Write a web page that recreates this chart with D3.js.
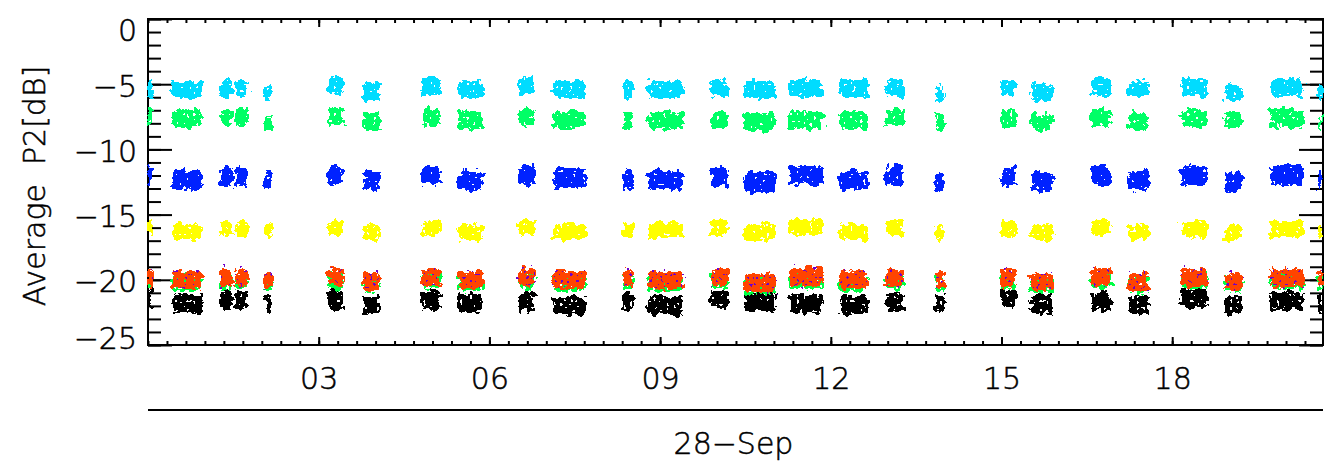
<!DOCTYPE html>
<html>
<head>
<meta charset="utf-8">
<script src="https://cdn.jsdelivr.net/npm/d3@7"></script>
<style>
  html, body { margin: 0; padding: 0; background: #fff; }
  svg { display: block; }
</style>
</head>
<body>
<script>
// ---------------- DATA ----------------
// Observation bursts: start / end time in hours of 28-Sep
const clusterStart = [0.00, 0.42, 1.27, 1.53, 2.06, 3.17, 3.78, 4.82, 5.44, 6.51, 7.11, 8.34, 8.78, 9.89, 10.47, 11.26, 12.14, 12.97, 13.85, 14.99, 15.52, 16.58, 17.23, 18.16, 18.92, 19.71, 20.57];
const clusterEnd   = [0.07, 0.95, 1.48, 1.76, 2.18, 3.43, 4.08, 5.14, 5.88, 6.81, 7.69, 8.52, 9.40, 10.19, 11.03, 11.86, 12.65, 13.29, 13.99, 15.26, 15.91, 16.93, 17.60, 18.63, 19.22, 20.31, 20.65];

// Average P2 [dB] level of each series in each burst
const levelCyan   = [-5.3,-5.4,-5.3,-5.3,-5.6,-5.1,-5.6,-5.2,-5.4,-5.1,-5.4,-5.4,-5.4,-5.3,-5.4,-5.3,-5.3,-5.3,-5.7,-5.3,-5.6,-5.2,-5.4,-5.2,-5.6,-5.3,-5.6];
const levelGreen  = [-7.5,-7.6,-7.5,-7.5,-7.9,-7.5,-7.9,-7.5,-7.75,-7.5,-7.75,-7.75,-7.8,-7.75,-7.9,-7.75,-7.75,-7.5,-7.9,-7.6,-7.9,-7.6,-7.9,-7.6,-7.75,-7.6,-8.0];
const levelBlue   = [-12.0,-12.35,-12.1,-12.1,-12.35,-12.0,-12.35,-12.0,-12.35,-12.0,-12.2,-12.35,-12.35,-12.1,-12.5,-12.0,-12.35,-12.0,-12.5,-12.1,-12.5,-12.0,-12.35,-12.0,-12.5,-12.0,-12.35];
const levelYellow = [-16.0,-16.35,-16.1,-16.1,-16.2,-16.0,-16.35,-16.0,-16.35,-15.95,-16.35,-16.2,-16.2,-16.0,-16.35,-15.95,-16.35,-16.0,-16.4,-16.1,-16.35,-16.0,-16.35,-16.1,-16.35,-16.1,-16.35];
const levelBlack  = [-21.5,-21.85,-21.6,-21.6,-21.85,-21.55,-21.95,-21.55,-21.8,-21.7,-21.95,-21.7,-21.95,-21.4,-21.7,-21.8,-21.95,-21.7,-21.8,-21.4,-21.8,-21.7,-21.95,-21.4,-21.95,-21.7,-21.8];
const levelGreen20  = [-20.1,-20.25,-20.1,-20.1,-20.25,-20.05,-20.35,-20.05,-20.25,-20.05,-20.25,-20.05,-20.25,-20.05,-20.5,-20.05,-20.25,-20.1,-20.25,-20.1,-20.4,-20.05,-20.4,-20.1,-20.35,-20.1,-20.2];
const levelRed20    = [-19.85,-20.0,-19.85,-19.85,-20.0,-19.8,-20.1,-19.8,-20.0,-19.8,-20.0,-19.8,-20.0,-19.8,-20.25,-19.8,-20.0,-19.85,-20.0,-19.85,-20.15,-19.8,-20.15,-19.85,-20.1,-19.85,-19.95];
const levelPurple20 = [-19.8,-19.95,-19.8,-19.8,-19.95,-19.75,-20.05,-19.75,-19.95,-19.75,-19.95,-19.75,-19.95,-19.75,-20.2,-19.75,-19.95,-19.8,-19.95,-19.8,-20.1,-19.75,-20.1,-19.8,-20.05,-19.8,-19.9];

// half spread of the scatter inside a burst, dB
const spreadCyan = 0.66, spreadGreen = 0.66, spreadBlue = 0.74, spreadYellow = 0.6,
      spreadBlack = 0.72, spreadGreen20 = 0.62, spreadRed20 = 0.66, spreadPurple20 = 0.8;

const yMajorTicks = [0, -5, -10, -15, -20, -25];
const xMajorHours = [3, 6, 9, 12, 15, 18];
const xTickLabels = ["03", "06", "09", "12", "15", "18"];
const dateLabel = "28\u2212Sep";
const yTitle = "Average  P2[dB]";

// ---------------- SERIES TABLE (draw order) ----------------
const series = [
  { levels: levelCyan,     spread: spreadCyan,     color: "#00dcff", seed: 3,  thr: 0.30 },
  { levels: levelGreen,    spread: spreadGreen,    color: "#00ff66", seed: 11, thr: 0.30 },
  { levels: levelBlue,     spread: spreadBlue,     color: "#0022ff", seed: 19, thr: 0.29 },
  { levels: levelYellow,   spread: spreadYellow,   color: "#ffff00", seed: 27, thr: 0.30 },
  { levels: levelBlack,    spread: spreadBlack,    color: "#000000", seed: 35, thr: 0.31 },
  { levels: levelGreen20,  spread: spreadGreen20,  color: "#00ff44", seed: 43, thr: 0.38 },
  { levels: levelRed20,    spread: spreadRed20,    color: "#ff4400", seed: 51, thr: 0.27 },
  { levels: levelPurple20, spread: spreadPurple20, color: "#7000cc", seed: 59, thr: 0.66 }
];

// ---------------- LAYOUT ----------------
const W = 1335, H = 473;
const L = 148, R = 1323, T = 19, B = 345;
const FONT = "'DejaVu Sans', 'Liberation Sans', sans-serif";

const x = d3.scaleLinear().domain([0, 20.65]).range([L, R]);
const y = d3.scaleLinear().domain([0, -25]).range([T, B]);

const svg = d3.select("body").append("svg").attr("width", W).attr("height", H);
svg.append("rect").attr("width", W).attr("height", H).attr("fill", "#fff");
const defs = svg.append("defs");

defs.append("clipPath").attr("id", "plotClip")
  .append("rect").attr("x", L - 1).attr("y", T).attr("width", R - L + 2).attr("height", B - T);

function makeFilter(id, seed, thr) {
  const f = defs.append("filter").attr("id", id)
    .attr("filterUnits", "userSpaceOnUse")
    .attr("x", 120).attr("y", 0).attr("width", 1215).attr("height", 360)
    .attr("color-interpolation-filters", "sRGB");
  f.append("feTurbulence").attr("type", "fractalNoise").attr("baseFrequency", 0.16)
    .attr("numOctaves", 2).attr("seed", seed).attr("result", "shapeNoise");
  f.append("feDisplacementMap").attr("in", "SourceGraphic").attr("in2", "shapeNoise")
    .attr("scale", 11).attr("xChannelSelector", "R").attr("yChannelSelector", "G").attr("result", "disp");
  f.append("feTurbulence").attr("type", "fractalNoise").attr("baseFrequency", 0.3)
    .attr("numOctaves", 1).attr("seed", seed + 5).attr("result", "speckNoise");
  f.append("feColorMatrix").attr("in", "speckNoise").attr("type", "matrix")
    .attr("values", `0 0 0 0 0  0 0 0 0 0  0 0 0 0 0  30 0 0 0 ${-30 * thr}`).attr("result", "mask");
  f.append("feComposite").attr("in", "disp").attr("in2", "mask").attr("operator", "in").attr("result", "speck");
  f.append("feComponentTransfer").attr("in", "speck")
    .append("feFuncA").attr("type", "discrete").attr("tableValues", "0 1");
}

const textStyle = sel => sel.attr("fill", "#000").attr("stroke", "#000").attr("stroke-width", 0.5)
  .attr("font-family", FONT).attr("font-size", 30).attr("font-weight", 200);

// ---------------- FRAME & AXES ----------------
const axisStyle = g => {
  g.select(".domain").remove();
  g.selectAll("line").attr("stroke", "#000").attr("stroke-width", 2);
  g.selectAll("text").call(textStyle);
};

const yMinor = d3.range(0, -26, -1);
const xMinor = d3.range(0, 20.66, 1 / 3);

// left: ticks inward
svg.append("g").attr("transform", `translate(${L},0)`)
  .call(d3.axisRight(y).tickValues(yMinor).tickSize(13).tickFormat("")).call(axisStyle);
svg.append("g").attr("transform", `translate(${L},0)`)
  .call(d3.axisRight(y).tickValues(yMajorTicks).tickSize(24).tickFormat("")).call(axisStyle);
// right: ticks inward
svg.append("g").attr("transform", `translate(${R},0)`)
  .call(d3.axisLeft(y).tickValues(yMinor).tickSize(13).tickFormat("")).call(axisStyle);
svg.append("g").attr("transform", `translate(${R},0)`)
  .call(d3.axisLeft(y).tickValues(yMajorTicks).tickSize(24).tickFormat("")).call(axisStyle);
// top: ticks down
svg.append("g").attr("transform", `translate(0,${T})`)
  .call(d3.axisBottom(x).tickValues(xMinor).tickSize(4).tickFormat("")).call(axisStyle);
svg.append("g").attr("transform", `translate(0,${T})`)
  .call(d3.axisBottom(x).tickValues(xMajorHours).tickSize(8).tickFormat("")).call(axisStyle);
// bottom: ticks up
svg.append("g").attr("transform", `translate(0,${B})`)
  .call(d3.axisTop(x).tickValues(xMinor).tickSize(4).tickFormat("")).call(axisStyle);
svg.append("g").attr("transform", `translate(0,${B})`)
  .call(d3.axisTop(x).tickValues(xMajorHours).tickSize(8).tickFormat("")).call(axisStyle);

// y labels
const yLab = svg.append("g").attr("transform", `translate(${L},0)`)
  .call(d3.axisLeft(y).tickValues(yMajorTicks).tickSize(0).tickPadding(11)
    .tickFormat(d => d === 0 ? "0" : "\u2212" + Math.abs(d)))
  .call(axisStyle);
yLab.selectAll("text").attr("dy", d => d === 0 ? "0.72em" : (d === -25 ? "0.1em" : "0.4em"));

// x labels
svg.append("g").attr("transform", `translate(0,${B})`)
  .call(d3.axisBottom(x).tickValues(xMajorHours).tickSize(0).tickPadding(23)
    .tickFormat((d, i) => xTickLabels[i]))
  .call(axisStyle);

// frame
svg.append("rect").attr("x", L).attr("y", T).attr("width", R - L).attr("height", B - T)
  .attr("fill", "none").attr("stroke", "#000").attr("stroke-width", 2);

// date line and label
svg.append("line").attr("x1", L).attr("x2", R).attr("y1", 410).attr("y2", 410)
  .attr("stroke", "#000").attr("stroke-width", 2);
svg.append("text").attr("x", (L + R) / 2 - 2).attr("y", 454)
  .attr("text-anchor", "middle").call(textStyle).text(dateLabel);

// y title
svg.append("text").attr("transform", "translate(45,186) rotate(-90)")
  .attr("text-anchor", "middle").call(textStyle).style("white-space", "pre").text(yTitle);

// ---------------- SCATTER BURSTS ----------------
const plot = svg.append("g").attr("clip-path", "url(#plotClip)");
series.forEach((s, si) => {
  const fid = "speck" + si;
  makeFilter(fid, s.seed, s.thr);
  const g = plot.append("g").attr("filter", `url(#${fid})`);
  g.selectAll("rect").data(clusterStart.map((t0, i) => ({ t0, t1: clusterEnd[i], v: s.levels[i] })))
    .join("rect")
    .attr("x", d => x(d.t0))
    .attr("width", d => Math.max(4, x(d.t1) - x(d.t0)))
    .attr("y", d => y(d.v + s.spread))
    .attr("height", d => y(d.v - s.spread) - y(d.v + s.spread))
    .attr("rx", 4)
    .attr("fill", s.color);
});
</script>
</body>
</html>
